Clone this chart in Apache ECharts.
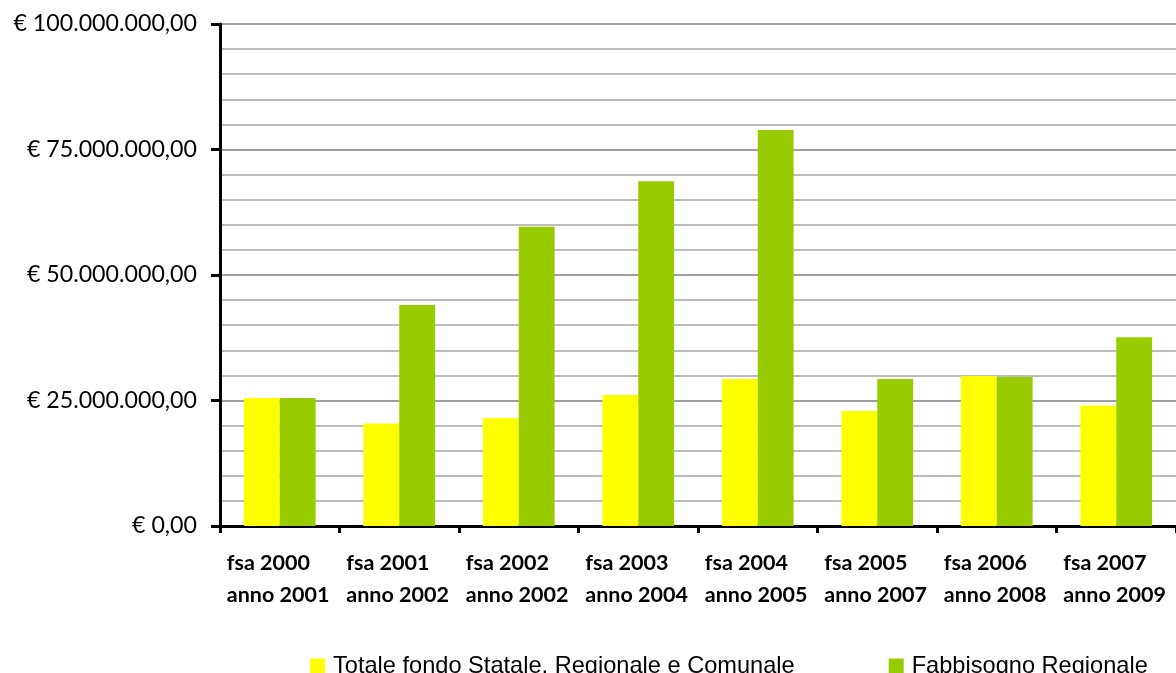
<!DOCTYPE html>
<html>
<head>
<meta charset="utf-8">
<script src="https://cdn.jsdelivr.net/npm/echarts@6/dist/echarts.min.js"></script>
<style>
html,body{margin:0;padding:0;background:#fff;}
#chart{width:1176px;height:673px;}
</style>
</head>
<body>
<div id="chart"></div>
<script>
const categories = [
  'fsa 2000\nanno 2001', 'fsa 2001\nanno 2002', 'fsa 2002\nanno 2002', 'fsa 2003\nanno 2004',
  'fsa 2004\nanno 2005', 'fsa 2005\nanno 2007', 'fsa 2006\nanno 2008', 'fsa 2007\nanno 2009'
];
const totaleFondo = [25500000, 20400000, 21500000, 26100000, 29300000, 22900000, 29900000, 24000000];
const fabbisogno = [25500000, 44000000, 59600000, 68700000, 78900000, 29300000, 29700000, 37600000];
const seriesNames = ['Totale fondo Statale, Regionale e Comunale', 'Fabbisogno Regionale'];

function fmtEuro(v) {
  const s = Math.round(v).toString().replace(/\B(?=(\d{3})+(?!\d))/g, '.');
  return '€ ' + s + ',00';
}

const chart = echarts.init(document.getElementById('chart'));
chart.setOption({
  animation: false,
  backgroundColor: '#ffffff',
  grid: { left: 220, top: 24, height: 502, width: 960, containLabel: false },
  legend: {
    left: 305, top: 649,
    itemWidth: 15, itemHeight: 15, itemGap: 94,
    icon: 'rect',
    textStyle: { fontFamily: 'Liberation Sans', fontSize: 23.6, lineHeight: 24, color: '#000', padding: [0, 0, 0, 3] },
    data: seriesNames
  },
  xAxis: {
    type: 'category',
    data: categories,
    axisLine: { lineStyle: { color: '#000', width: 3 } },
    axisTick: { show: true, length: 7, lineStyle: { color: '#000', width: 3 } },
    axisLabel: {
      interval: 0,
      margin: 21,
      formatter: function (v) {
        return v.split('\n').map(function (l) { return '{a|' + l + '}'; }).join('\n');
      },
      rich: {
        a: { width: 106, align: 'left', fontFamily: 'Lato', fontWeight: 'bold', fontSize: 21.5, lineHeight: 32, color: '#000' }
      }
    }
  },
  yAxis: {
    type: 'value',
    min: 0, max: 100000000, interval: 25000000,
    axisLine: { show: true, lineStyle: { color: '#000', width: 3 } },
    axisTick: { show: true, length: 9, lineStyle: { color: '#000', width: 3 } },
    axisLabel: {
      margin: 23,
      fontFamily: 'Lato', fontSize: 23.2, color: '#000',
      formatter: function (v) { return fmtEuro(v); }
    },
    splitLine: { show: true, lineStyle: { color: '#7f7f7f', width: 1.5 } },
    minorTick: { show: false, splitNumber: 5 },
    minorSplitLine: { show: true, lineStyle: { color: '#a6a6a6', width: 1.5 } }
  },
  series: [
    {
      name: seriesNames[0], type: 'bar', data: totaleFondo,
      itemStyle: { color: '#ffff00' }, barGap: '0%', barCategoryGap: '40%'
    },
    {
      name: seriesNames[1], type: 'bar', data: fabbisogno,
      itemStyle: { color: '#99cc00' }, barGap: '0%', barCategoryGap: '40%'
    }
  ]
});
</script>
</body>
</html>
